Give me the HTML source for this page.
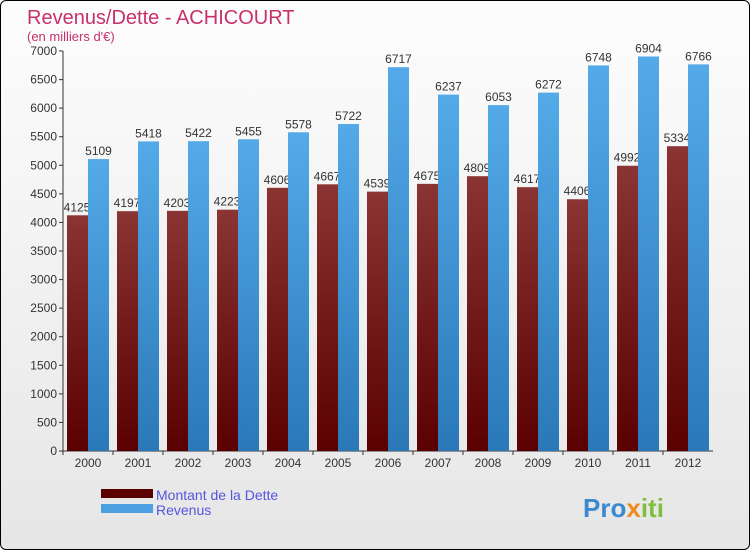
<!DOCTYPE html>
<html><head><meta charset="utf-8"><style>
body{margin:0;background:#fff}
#wrap{position:relative;width:748px;height:548px;border:1px solid #000;border-radius:6px;overflow:hidden;background:linear-gradient(#fdfdfd,#e6e6e6);font-family:"Liberation Sans",sans-serif}
</style></head><body>
<div id="wrap">
<svg id="c" width="748" height="548" xmlns="http://www.w3.org/2000/svg">
<defs>
<linearGradient id="gd" x1="0" x2="0" y1="0" y2="1"><stop offset="0" stop-color="#8a3434"/><stop offset="1" stop-color="#5a0000"/></linearGradient>
<linearGradient id="gr" x1="0" x2="0" y1="0" y2="1"><stop offset="0" stop-color="#54aae8"/><stop offset="1" stop-color="#2a78b8"/></linearGradient>
</defs>
<text x="26" y="23" font-size="20" fill="#c8306a">Revenus/Dette - ACHICOURT</text>
<text x="26" y="40" font-size="13" fill="#c8306a">(en milliers d'€)</text>
<g id="axes"></g><g id="bars"></g>
<g>
<rect x="100" y="488" width="52" height="9" fill="#5a0000"/>
<text x="155" y="499" font-size="14" fill="#5555dd">Montant de la Dette</text>
<rect x="100" y="503" width="52" height="9" fill="#4aa0e0"/>
<text x="155" y="514" font-size="14" fill="#5555dd">Revenus</text>
</g>
<text x="582" y="516" font-size="26" font-weight="bold" fill="#3a8ad0">Pro<tspan fill="#f08a20">x</tspan><tspan fill="#80c040">iti</tspan></text>
</svg></div>
<script>
const years=["2000","2001","2002","2003","2004","2005","2006","2007","2008","2009","2010","2011","2012"];
const dette=[4125,4197,4203,4223,4606,4667,4539,4675,4809,4617,4406,4992,5334];
const revenus=[5109,5418,5422,5455,5578,5722,6717,6237,6053,6272,6748,6904,6766];
const ticks=[0,500,1000,1500,2000,2500,3000,3500,4000,4500,5000,5500,6000,6500,7000];
const NS="http://www.w3.org/2000/svg";
const x0=62,x1=712,yb=450,yt=50,vmax=7000;
const y=v=>yb-(v/vmax)*(yb-yt);
const gw=(x1-x0)/years.length;
const xc=i=>x0+gw*(i+0.5);
function mk(t,a,p){const e=document.createElementNS(NS,t);for(const k in a)e.setAttribute(k,a[k]);p.appendChild(e);return e;}
const ax=document.getElementById('axes'),bg=document.getElementById('bars');
ticks.forEach(t=>{
const l=mk('line',{x1:x0-4,x2:x0,y1:y(t),y2:y(t),stroke:'#333'},ax);


const tx=mk('text',{x:x0-6,y:y(t)+4,'font-size':12,'text-anchor':'end',fill:'#333'},ax);tx.textContent=t;


});
const al=mk('line',{x1:x0,x2:x0,y1:yt,y2:yb,stroke:'#333'},ax);


const bl=mk('line',{x1:x0,x2:x1,y1:yb,y2:yb,stroke:'#333'},ax);


const bw=21;
years.forEach((yr,i)=>{
const c=xc(i);
const t=mk('text',{x:c,y:yb+16,'font-size':12,'text-anchor':'middle',fill:'#333'},ax);t.textContent=yr;


const tk=mk('line',{x1:c-gw/2,x2:c-gw/2,y1:yb,y2:yb+4,stroke:'#333'},ax);


});
years.forEach((yr,i)=>{
const c=xc(i);
const r=mk('rect',{x:c-bw,y:y(dette[i]),width:bw,height:yb-y(dette[i]),fill:'url(#gd)'},bg);


const t=mk('text',{x:c-bw+10,y:y(dette[i])-4,'font-size':12,'text-anchor':'middle',fill:'#333'},bg);t.textContent=dette[i];


});
years.forEach((yr,i)=>{
const c=xc(i);
const r=mk('rect',{x:c,y:y(revenus[i]),width:bw,height:yb-y(revenus[i]),fill:'url(#gr)'},bg);


const t=mk('text',{x:c+bw/2,y:y(revenus[i])-4,'font-size':12,'text-anchor':'middle',fill:'#333'},bg);t.textContent=revenus[i];


});
</script>
</body></html>
